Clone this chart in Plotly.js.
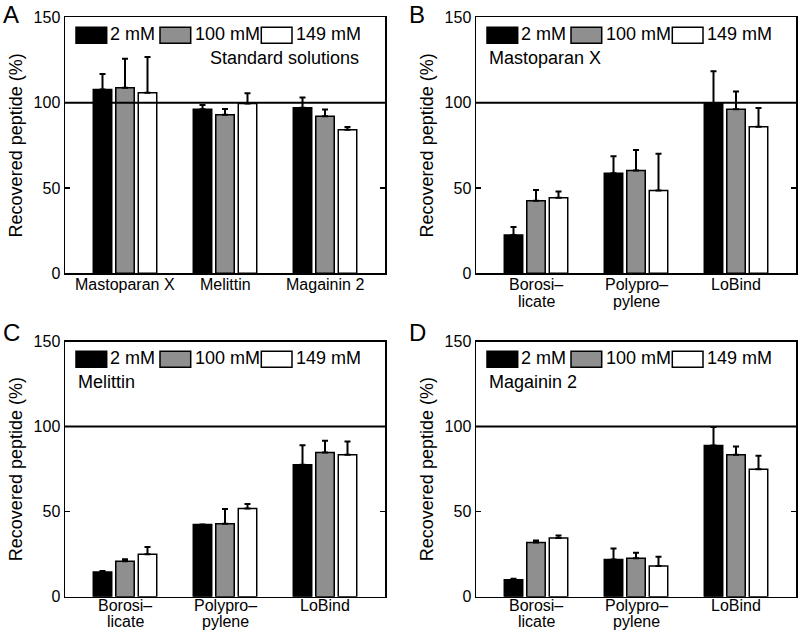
<!DOCTYPE html>
<html>
<head>
<meta charset="utf-8">
<script src="https://cdn.plot.ly/plotly-3.0.1.min.js"></script>
<style>html,body{margin:0;padding:0;background:#fff;}#chart{width:800px;height:634px;}</style>
</head>
<body>
<div id="chart"></div>
<script>
// ---- Data ----
const seriesNames = ['2 mM', '100 mM', '149 mM'];
const peptideCategories = ['Mastoparan X', 'Melittin', 'Magainin 2'];
const materialCategories = ['Borosi\u2013<br>licate', 'Polypro\u2013<br>pylene', 'LoBind'];
const yTicks = [0, 50, 100, 150];
const panelLetters = ['A', 'B', 'C', 'D'];
const panelNotes = ['Standard solutions', 'Mastoparan X', 'Melittin', 'Magainin 2'];
const referenceLevel = 100;
const noLower = [0, 0, 0];

// Panel A: standard solutions
const a2mM = [107.8, 96.1, 97.0];
const a100mM = [108.8, 92.9, 92.0];
const a149mM = [105.8, 99.6, 84.2];
const a2mMErr = [9.0, 2.5, 6.0];
const a100mMErr = [17.0, 3.4, 4.0];
const a149mMErr = [21.0, 6.0, 1.5];

// Panel B: Mastoparan X
const b2mM = [22.4, 58.6, 99.8];
const b100mM = [42.5, 60.3, 96.1];
const b149mM = [44.3, 48.6, 85.9];
const b2mMErr = [4.7, 10.0, 18.6];
const b100mMErr = [6.3, 12.0, 10.5];
const b149mMErr = [3.7, 21.5, 11.0];

// Panel C: Melittin
const c2mM = [14.5, 42.4, 77.5];
const c100mM = [20.8, 42.9, 84.7];
const c149mM = [24.9, 51.8, 83.5];
const c2mMErr = [0.6, 0.0, 11.5];
const c100mMErr = [1.2, 8.7, 6.9];
const c149mMErr = [4.3, 2.7, 7.7];

// Panel D: Magainin 2
const d2mM = [10.0, 21.8, 88.8];
const d100mM = [31.8, 22.6, 83.4];
const d149mM = [34.5, 18.1, 74.9];
const d2mMErr = [0.5, 6.6, 11.0];
const d100mMErr = [1.2, 3.3, 4.9];
const d149mMErr = [1.4, 5.4, 7.9];

// ---- Styling / assembly ----
const fillColors = ['#000000', '#8f8f8f', '#ffffff'];
const FONT = 'Liberation Sans, Arial, Helvetica, sans-serif';

const panels = [
  {cats: peptideCategories, vals: [a2mM, a100mM, a149mM], errs: [a2mMErr, a100mMErr, a149mMErr]},
  {cats: materialCategories, vals: [b2mM, b100mM, b149mM], errs: [b2mMErr, b100mMErr, b149mMErr]},
  {cats: materialCategories, vals: [c2mM, c100mM, c149mM], errs: [c2mMErr, c100mMErr, c149mMErr]},
  {cats: materialCategories, vals: [d2mM, d100mM, d149mM], errs: [d2mMErr, d100mMErr, d149mMErr]}
];

const W = 800, H = 634;
const xDomains = [[65/W, 385/W], [476/W, 796/W], [65/W, 385/W], [476/W, 796/W]];
const yDomains = [[1-273.3/H, 1-17.4/H], [1-273.3/H, 1-17.4/H], [1-596.7/H, 1-341.5/H], [1-596.7/H, 1-341.5/H]];
const letterPos = [[11, 15], [417, 15], [11, 332], [417, 332]];
const labelShifts = [[-11, -28], [-11, -28], [-9, -25], [-9, -25]];

const traces = [];
const layout = {
  width: W, height: H,
  margin: {l: 0, r: 0, t: 0, b: 0},
  paper_bgcolor: '#ffffff', plot_bgcolor: '#ffffff',
  font: {family: FONT, size: 16, color: '#000'},
  barmode: 'group', bargap: 0.325, bargroupgap: 0.18,
  showlegend: false,
  shapes: [], annotations: []
};

panels.forEach((p, i) => {
  const sfx = i === 0 ? '' : String(i + 1);
  const xa = 'x' + sfx, ya = 'y' + sfx;
  p.vals.forEach((v, s) => {
    traces.push({
      type: 'bar', x: p.cats, y: v, name: seriesNames[s],
      xaxis: xa, yaxis: ya,
      marker: {color: fillColors[s], line: {color: '#000', width: 1.5}},
      error_y: {type: 'data', symmetric: false, array: p.errs[s], arrayminus: noLower,
                color: '#000', thickness: 2, width: 3},
      hoverinfo: 'x+y+name'
    });
  });
  layout['xaxis' + sfx] = {
    domain: xDomains[i], anchor: ya, type: 'category', range: [-0.6, 2.6],
    showline: true, linecolor: '#000', linewidth: 1.5, mirror: true,
    ticks: '', showgrid: false, zeroline: false, fixedrange: true,
    showticklabels: false
  };
  layout['yaxis' + sfx] = {
    domain: yDomains[i], anchor: xa, range: [0, 150],
    tickvals: yTicks, ticktext: yTicks.map(String),
    showline: true, linecolor: '#000', linewidth: 1.5, mirror: 'allticks',
    ticks: 'inside', ticklen: 5, tickwidth: 1.5, tickcolor: '#000',
    showgrid: false, zeroline: false, fixedrange: true,
    tickfont: {family: FONT, size: 16, color: '#000'},
    title: {text: 'Recovered peptide (%)', font: {family: FONT, size: 18, color: '#000'}, standoff: 6}
  };
  const xd = xa + ' domain', yd = ya + ' domain';
  // category labels (one annotation per text line, positioned on the category scale)
  p.cats.forEach((c) => {
    c.split('<br>').forEach((line, li) => {
      layout.annotations.push({xref: xa, yref: yd, x: c, y: 0, yshift: labelShifts[i][li],
                               xanchor: 'center', yanchor: 'middle', text: line, showarrow: false,
                               font: {family: FONT, size: 16, color: '#000'}});
    });
  });
  // reference line at 100 %
  layout.shapes.push({type: 'line', xref: xd, yref: ya, x0: 0, x1: 1, y0: referenceLevel, y1: referenceLevel,
                      line: {color: '#000', width: 2}});
  // legend swatches and labels
  const sw = [[11, 41.7], [95, 125.7], [196.3, 227]];
  const txt = [43, 127.5, 228.5];
  const pw = 320, ph = 256;
  sw.forEach((r, s) => {
    layout.shapes.push({type: 'rect', xref: xd, yref: yd, x0: r[0]/pw, x1: r[1]/pw,
                        y0: 1 - 25.9/ph, y1: 1 - 9.9/ph,
                        fillcolor: fillColors[s], line: {color: '#000', width: 1.5}});
    layout.annotations.push({xref: xd, yref: yd, x: txt[s]/pw, y: 1 - 17/ph, xanchor: 'left', yanchor: 'middle',
                             text: seriesNames[s], showarrow: false, font: {family: FONT, size: 18, color: '#000'}});
  });
  // note text
  const noteX = i === 0 ? 143/pw : 11/pw;
  layout.annotations.push({xref: xd, yref: yd, x: noteX, y: 1 - 41/ph, xanchor: 'left', yanchor: 'middle',
                           text: panelNotes[i], showarrow: false, font: {family: FONT, size: 18, color: '#000'}});
  // panel letter
  layout.annotations.push({xref: 'paper', yref: 'paper', x: letterPos[i][0]/W, y: 1 - letterPos[i][1]/H,
                           xanchor: 'center', yanchor: 'middle', text: panelLetters[i], showarrow: false,
                           font: {family: FONT, size: 24, color: '#000'}});
});

Plotly.newPlot('chart', traces, layout, {displayModeBar: false, staticPlot: true});
</script>
</body>
</html>
